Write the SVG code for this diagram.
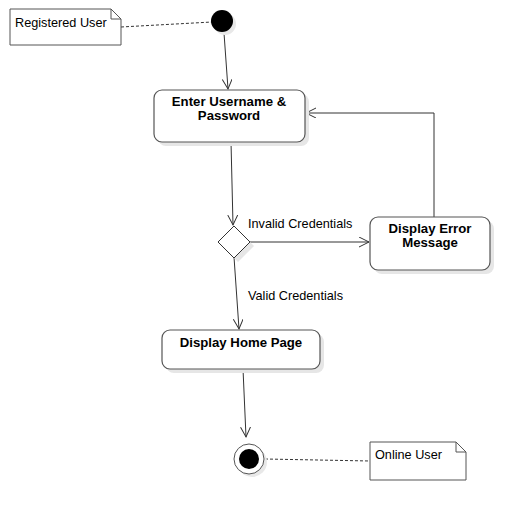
<svg xmlns="http://www.w3.org/2000/svg" width="530" height="522" viewBox="0 0 530 522">
<style>
.box{fill:#fff;stroke:#555;stroke-width:1.2}
.sh{fill:#e6e6e6;stroke:none}
.note{fill:#fff;stroke:#555;stroke-width:1}
.t{font-family:"Liberation Sans",Arial,sans-serif;font-size:12.7px;fill:#000}
.b{font-weight:bold;text-anchor:middle;font-size:13.2px}
.c{fill:none;stroke:#333;stroke-width:1}
.d{fill:none;stroke:#333;stroke-width:1;stroke-dasharray:3,2}
</style>
<defs>
<marker id="a" markerWidth="12" markerHeight="12" refX="10" refY="5" orient="auto" markerUnits="userSpaceOnUse">
<path d="M0,0 L10,5 L0,10" fill="none" stroke="#333" stroke-width="1"/>
</marker>
</defs>
<rect width="530" height="522" fill="#fff"/>
<g id="connectors">
<path class="d" d="M121,27 L212,22"/>
<path class="c" d="M224,33 L228,89" marker-end="url(#a)"/>
<path class="c" d="M231,142 L233,225" marker-end="url(#a)"/>
<path class="c" d="M250,242 L369,242" marker-end="url(#a)"/>
<path class="c" d="M434,217 L434,113 L306,113" marker-end="url(#a)"/>
<path class="c" d="M234,257 L239,329" marker-end="url(#a)"/>
<path class="c" d="M243,369 L246,437" marker-end="url(#a)"/>
<path class="d" d="M265,459 L370,461"/>
<text class="t" x="248" y="228">Invalid Credentials</text>
<text class="t" x="248" y="300">Valid Credentials</text>
</g>
<g id="registered-user">
<path class="note" d="M10,9 L111,9 L121,19 L121,45 L10,45 Z M111,9 L111,19 L121,19"/>
<text class="t" x="15" y="27">Registered User</text>
</g>
<g id="initial">
<circle cx="225" cy="24" r="11" fill="#e8e8e8"/>
<circle cx="222" cy="21" r="11" fill="#000"/>
</g>
<g id="enter-credentials">
<rect class="sh" x="158" y="94" width="151" height="52" rx="8"/>
<rect class="box" x="154" y="90" width="151" height="52" rx="8"/>
<text class="t b" x="229" y="106">Enter Username &amp;</text>
<text class="t b" x="229" y="120">Password</text>
</g>
<g id="decision">
<path class="sh" d="M238,230 L254,246 L238,262 L222,246 Z"/>
<path d="M234,226 L250,242 L234,258 L218,242 Z" fill="#fff" stroke="#333" stroke-width="1"/>
</g>
<g id="display-error">
<rect class="sh" x="374" y="221" width="120" height="53" rx="8"/>
<rect class="box" x="370" y="217" width="120" height="53" rx="8"/>
<text class="t b" x="430" y="233">Display Error</text>
<text class="t b" x="430" y="247">Message</text>
</g>
<g id="display-home">
<rect class="sh" x="166" y="334" width="158" height="39" rx="8"/>
<rect class="box" x="162" y="330" width="158" height="39" rx="8"/>
<text class="t b" x="241" y="347">Display Home Page</text>
</g>
<g id="final">
<circle cx="252" cy="462" r="15" fill="#e8e8e8"/>
<circle cx="249" cy="459" r="15" fill="#fff" stroke="#555" stroke-width="1"/>
<circle cx="249" cy="459" r="10" fill="#000"/>
</g>
<g id="online-user">
<path class="note" d="M370,442 L456,442 L466,452 L466,480 L370,480 Z M456,442 L456,452 L466,452"/>
<text class="t" x="375" y="459">Online User</text>
</g>
</svg>
